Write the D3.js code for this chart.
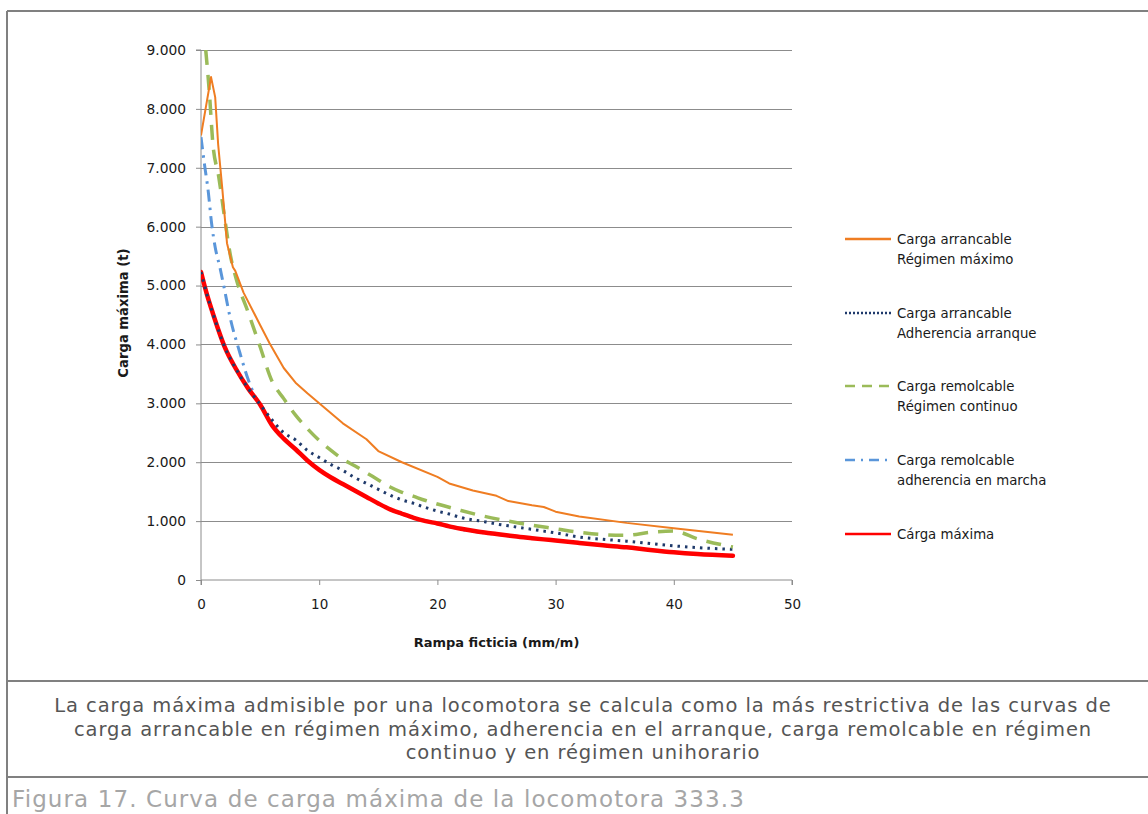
<!DOCTYPE html>
<html>
<head>
<meta charset="utf-8">
<script src="https://cdn.jsdelivr.net/npm/d3@7"></script>
<style>
  html, body { margin: 0; padding: 0; background: #fff; }
  svg { display: block; }
</style>
</head>
<body>
<svg id="chart" width="1148" height="814"></svg>
<script>
// ---------------- DATA ----------------
const xTicks = [0, 10, 20, 30, 40, 50];
const yTicks = [0, 1000, 2000, 3000, 4000, 5000, 6000, 7000, 8000, 9000];
const yTickLabels = ["0", "1.000", "2.000", "3.000", "4.000", "5.000", "6.000", "7.000", "8.000", "9.000"];

// Carga arrancable - Régimen máximo
const orangeX = [0, 0.85, 1.2, 1.45, 1.8, 2.2, 2.7, 2.9, 3.6, 5, 5.8, 7, 8, 9, 10, 12, 14, 15, 17, 20, 21, 23, 25, 26, 28, 29, 30, 32, 36, 40, 45];
const orangeY = [7550, 8540, 8200, 7400, 6650, 5720, 5310, 5250, 4880, 4330, 4020, 3600, 3350, 3170, 3000, 2660, 2390, 2190, 2000, 1750, 1640, 1520, 1430, 1340, 1270, 1240, 1160, 1080, 970, 880, 770];

// Carga arrancable - Adherencia arranque
const navyX = [0, 0.5, 1, 2, 3, 4, 5, 6, 7, 8, 9, 10, 11, 12, 13, 14, 15, 16, 17, 18, 19, 20, 21, 22, 23, 24, 25, 26, 27, 28, 29, 30, 32, 34, 36, 38, 40, 42, 45];
const navyY = [5230, 4850, 4530, 3960, 3570, 3250, 2980, 2720, 2500, 2380, 2200, 2080, 1960, 1860, 1740, 1640, 1540, 1440, 1360, 1300, 1230, 1170, 1120, 1060, 1020, 990, 950, 920, 890, 860, 830, 800, 730, 690, 660, 620, 580, 550, 520];

// Carga remolcable - Régimen continuo
const greenX = [0.4, 0.7, 1, 1.5, 2, 2.5, 3, 4, 5, 6, 7, 8, 9, 10, 11, 12, 13, 14, 15, 16, 17, 18, 19, 20, 22, 24, 26, 28, 30, 32, 34, 36, 38, 40, 42, 45];
const greenY = [9000, 8300, 7420, 6850, 6150, 5500, 5100, 4540, 3960, 3380, 3080, 2800, 2570, 2370, 2200, 2050, 1940, 1820, 1700, 1580, 1490, 1420, 1350, 1290, 1180, 1080, 1000, 930, 870, 810, 770, 760, 810, 830, 700, 560];

// Carga remolcable - adherencia en marcha
const blueX = [0, 0.3, 0.6, 0.9, 1.2, 1.6, 2, 2.45, 3.3, 4, 4.6, 5, 6, 7, 8, 9, 10, 12, 14, 16, 18, 20, 22, 24, 26, 28, 30, 32, 34, 36, 38, 40, 42, 45];
const blueY = [7520, 7050, 6620, 6050, 5650, 5310, 4920, 4470, 3850, 3400, 3110, 2980, 2630, 2400, 2220, 2030, 1870, 1630, 1410, 1200, 1055, 960, 860, 800, 750, 710, 670, 630, 590, 555, 510, 470, 440, 410];

// Cárga máxima
const redX = [0, 0.5, 1, 2, 3, 4, 5, 6, 7, 8, 9, 10, 11, 12, 13, 14, 15, 16, 17, 18, 19, 20, 21, 22, 23, 24, 25, 26, 27, 28, 29, 30, 32, 34, 36, 38, 40, 42, 45];
const redY = [5230, 4850, 4530, 3960, 3570, 3250, 2980, 2630, 2400, 2220, 2030, 1870, 1740, 1630, 1520, 1410, 1300, 1200, 1125, 1055, 1000, 960, 910, 870, 835, 805, 780, 755, 730, 710, 690, 670, 630, 590, 555, 510, 470, 440, 410];

const seriesNames = [
  ["Carga arrancable", "Régimen máximo"],
  ["Carga arrancable", "Adherencia arranque"],
  ["Carga remolcable", "Régimen continuo"],
  ["Carga remolcable", "adherencia en marcha"],
  ["Cárga máxima"]
];

const xTitle = "Rampa ficticia (mm/m)";
const yTitle = "Carga máxima (t)";
const captionLines = [
  "La carga máxima admisible por una locomotora se calcula como la más restrictiva de las curvas de",
  "carga arrancable en régimen máximo, adherencia en el arranque, carga remolcable en régimen",
  "continuo y en régimen unihorario"
];
const figureTitle = "Figura 17. Curva de carga máxima de la locomotora 333.3";

// ---------------- DRAW ----------------
const svg = d3.select("#chart");
const font = "'DejaVu Sans', Verdana, sans-serif";

const x = d3.scaleLinear().domain([0, 50]).range([201, 792]);
const y = d3.scaleLinear().domain([0, 9000]).range([580, 50]);

// frame
const frame = svg.append("g").attr("stroke", "#808080").attr("stroke-width", 2).attr("fill", "none");
frame.append("line").attr("x1", 7).attr("x2", 1148).attr("y1", 11).attr("y2", 11);
frame.append("line").attr("x1", 7).attr("x2", 7).attr("y1", 11).attr("y2", 814);
frame.append("line").attr("x1", 7).attr("x2", 1148).attr("y1", 681).attr("y2", 681);
frame.append("line").attr("x1", 7).attr("x2", 1148).attr("y1", 777).attr("y2", 777);

// gridlines
svg.append("g")
  .selectAll("line")
  .data(yTicks.filter(d => d > 0))
  .join("line")
  .attr("x1", x(0)).attr("x2", x(50))
  .attr("y1", d => Math.round(y(d)) + 0.5).attr("y2", d => Math.round(y(d)) + 0.5)
  .attr("stroke", "#8c8c8c").attr("stroke-width", 1);

// axes
const yAxis = d3.axisLeft(y).tickValues(yTicks).tickSize(5).tickPadding(10)
  .tickFormat((d, i) => yTickLabels[i]);
const gy = svg.append("g").attr("transform", `translate(${x(0)},0)`).call(yAxis);
gy.select(".domain").attr("stroke", "#8c8c8c").attr("d", `M-5,${y(9000)}H0V${y(0)}`);
gy.selectAll(".tick line").attr("stroke", "#8c8c8c");
gy.selectAll(".tick text").attr("font-family", font).attr("font-size", 13.8).attr("fill", "#1a1a1a");

const xAxis = d3.axisBottom(x).tickValues(xTicks).tickSize(5).tickPadding(14);
const gx = svg.append("g").attr("transform", `translate(0,${y(0)})`).call(xAxis);
gx.select(".domain").attr("stroke", "#8c8c8c").attr("d", `M${x(0)},5V0H${x(50)}V5`);
gx.selectAll(".tick line").attr("stroke", "#8c8c8c");
gx.selectAll(".tick text").attr("font-family", font).attr("font-size", 13.5).attr("fill", "#1a1a1a");

// clip
svg.append("defs").append("clipPath").attr("id", "plotclip")
  .append("rect").attr("x", x(0)).attr("y", y(9000)).attr("width", x(50) - x(0)).attr("height", y(0) - y(9000));

const styles = [
  { xs: orangeX, ys: orangeY, color: "#EF7D22", width: 2, dash: null, cap: "butt", curve: d3.curveLinear },
  { xs: navyX, ys: navyY, color: "#1F3A6B", width: 3, dash: "2.5 5", cap: "butt", curve: d3.curveMonotoneX },
  { xs: greenX, ys: greenY, color: "#9BBB59", width: 3.5, dash: "15 10", cap: "butt", curve: d3.curveMonotoneX },
  { xs: blueX, ys: blueY, color: "#5A96DA", width: 3, dash: "12 6 2.5 6", cap: "butt", curve: d3.curveMonotoneX },
  { xs: redX, ys: redY, color: "#FF0000", width: 4.5, dash: null, cap: "round", curve: d3.curveMonotoneX }
];

const plot = svg.append("g").attr("clip-path", "url(#plotclip)");
const drawOrder = [3, 4, 1, 2, 0];
drawOrder.forEach(i => {
  const s = styles[i];
  const pts = s.xs.map((v, k) => [v, s.ys[k]]);
  const line = d3.line().x(d => x(d[0])).y(d => y(d[1])).curve(s.curve);
  plot.append("path")
    .attr("d", line(pts))
    .attr("fill", "none")
    .attr("stroke", s.color)
    .attr("stroke-width", s.width)
    .attr("stroke-dasharray", s.dash)
    .attr("stroke-linecap", s.cap)
    .attr("stroke-linejoin", "round");
});

// axis titles
svg.append("text")
  .attr("transform", `translate(128,${(y(0) + y(9000)) / 2 - 2}) rotate(-90)`)
  .attr("text-anchor", "middle")
  .attr("font-family", font).attr("font-size", 13.2).attr("font-weight", "bold").attr("fill", "#1a1a1a")
  .text(yTitle);
svg.append("text")
  .attr("x", (x(0) + x(50)) / 2).attr("y", 647)
  .attr("text-anchor", "middle")
  .attr("font-family", font).attr("font-size", 13).attr("font-weight", "bold").attr("fill", "#1a1a1a")
  .text(xTitle);

// legend
const legendTop = [239, 313, 386, 460, 534];
const leg = svg.append("g");
styles.forEach((s, i) => {
  const ly = legendTop[i];
  leg.append("line")
    .attr("x1", 845).attr("x2", 891).attr("y1", ly).attr("y2", ly)
    .attr("stroke", s.color)
    .attr("stroke-width", 2.5)
    .attr("stroke-dasharray", i === 1 ? "2 2" : (i === 2 ? "10 7" : (i === 3 ? "10 6 2 6" : null)));
  seriesNames[i].forEach((t, j) => {
    leg.append("text")
      .attr("x", 897).attr("y", ly + 5 + j * 20)
      .attr("font-family", font).attr("font-size", 13.3).attr("fill", "#1a1a1a")
      .text(t);
  });
});

// caption
const cap = svg.append("g");
captionLines.forEach((t, i) => {
  cap.append("text")
    .attr("x", 583).attr("y", 712 + i * 23.5)
    .attr("text-anchor", "middle")
    .attr("font-family", font).attr("font-size", 19.5).attr("letter-spacing", 0.9).attr("fill", "#555555")
    .text(t);
});
svg.append("text")
  .attr("x", 12).attr("y", 807)
  .attr("font-family", font).attr("font-size", 23).attr("letter-spacing", 1.1).attr("fill", "#a6a6a6")
  .text(figureTitle);
</script>
</body>
</html>
